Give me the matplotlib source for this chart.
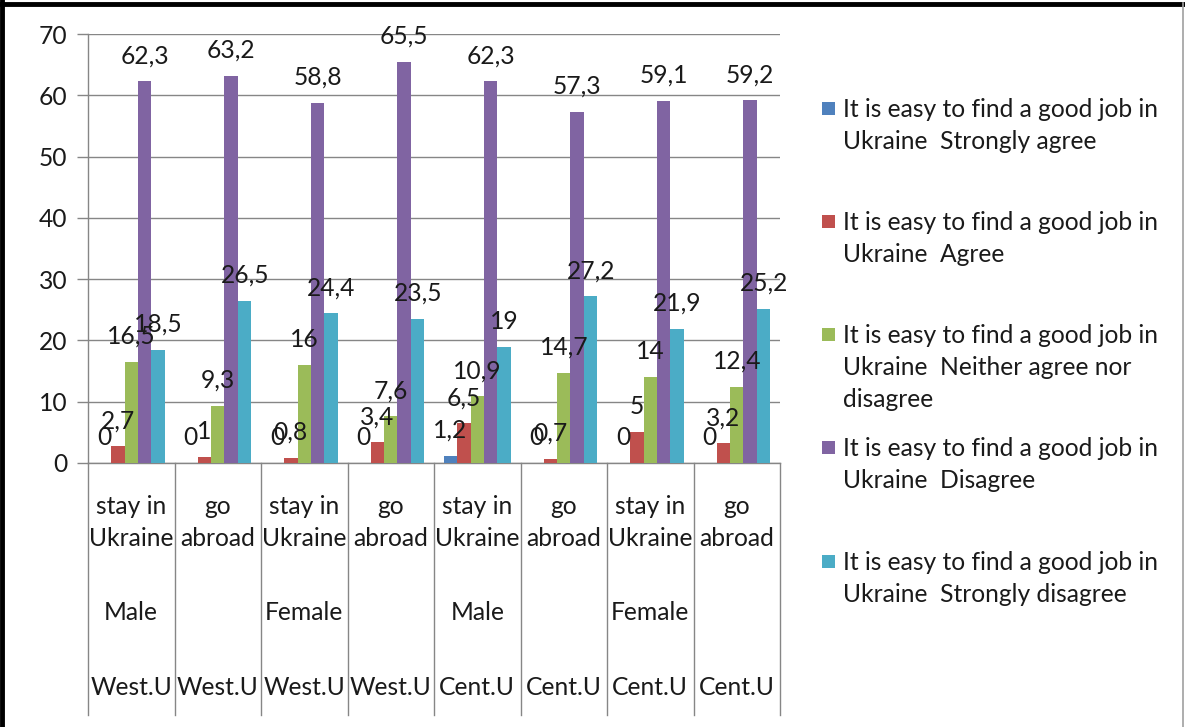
import matplotlib
matplotlib.use("Agg")
import matplotlib.pyplot as plt
from matplotlib.lines import Line2D
from matplotlib.patches import Rectangle
import numpy as np

plt.rcParams['font.family'] = ['Lato', 'DejaVu Sans']

# ---- data ----
row_action = ["stay in\nUkraine", "go\nabroad", "stay in\nUkraine", "go\nabroad",
              "stay in\nUkraine", "go\nabroad", "stay in\nUkraine", "go\nabroad"]
row_gender = ["Male", "", "Female", "", "Male", "", "Female", ""]
row_region = ["West.U", "West.U", "West.U", "West.U", "Cent.U", "Cent.U", "Cent.U", "Cent.U"]

series_names = [
    "It is easy to find a good job in\nUkraine  Strongly agree",
    "It is easy to find a good job in\nUkraine  Agree",
    "It is easy to find a good job in\nUkraine  Neither agree nor\ndisagree",
    "It is easy to find a good job in\nUkraine  Disagree",
    "It is easy to find a good job in\nUkraine  Strongly disagree",
]
strongly_agree = [0, 0, 0, 0, 1.2, 0, 0, 0]
agree = [2.7, 1, 0.8, 3.4, 6.5, 0.7, 5, 3.2]
neither = [16.5, 9.3, 16, 7.6, 10.9, 14.7, 14, 12.4]
disagree = [62.3, 63.2, 58.8, 65.5, 62.3, 57.3, 59.1, 59.2]
strongly_disagree = [18.5, 26.5, 24.4, 23.5, 19, 27.2, 21.9, 25.2]
series_values = [strongly_agree, agree, neither, disagree, strongly_disagree]
colors = ["#4F81BD", "#C0504D", "#9BBB59", "#8064A2", "#4BACC6"]
yticks = [0, 10, 20, 30, 40, 50, 60, 70]

FS = 17.7
GRAY = "#868686"
W, H = 1185, 727

fig = plt.figure(figsize=(W / 100, H / 100), dpi=100)
fig.patch.set_facecolor("white")

def fx(px):
    return px / W

def fy(py):
    return 1 - py / H

ax_left, ax_right, ax_top, ax_bot = 88, 780, 34, 463
ax = fig.add_axes([fx(ax_left), fy(ax_bot), fx(ax_right - ax_left), (ax_bot - ax_top) / H])

n = len(row_region)
x = np.arange(n)
bw = 0.156
for i, (vals, c) in enumerate(zip(series_values, colors)):
    xs = x + (i - 2) * bw
    ax.bar(xs, vals, width=bw, color=c, zorder=3)
    for xi, v in zip(xs, vals):
        lab = (str(int(v)) if float(v).is_integer() else str(v)).replace(".", ",")
        ax.annotate(lab, xy=(xi, v), xytext=(0, 13), textcoords="offset points",
                    ha="center", va="baseline", fontsize=FS, color="#1a1a1a",
                    zorder=5, annotation_clip=False)

ax.set_xlim(-0.5, n - 0.5)
ax.set_ylim(0, 70)
ax.set_yticks(yticks)
ax.set_yticklabels([str(t) for t in yticks], fontsize=FS)
ax.yaxis.grid(True, color=GRAY, linewidth=1, zorder=0)
ax.set_axisbelow(True)
ax.tick_params(axis="y", length=8, width=1, color=GRAY, pad=7, labelcolor="#1a1a1a")
ax.set_xticks([])
for s in ["top", "right"]:
    ax.spines[s].set_visible(False)
for s in ["left", "bottom"]:
    ax.spines[s].set_color(GRAY)
    ax.spines[s].set_linewidth(1)

# category area
trans = ax.get_xaxis_transform()
h = ax_bot - ax_top
def af(py):
    return (ax_bot - py) / h

for b in np.arange(-0.5, n, 1.0):
    ax.plot([b, b], [0, af(715)], transform=trans, color=GRAY, lw=1, clip_on=False)

for i in range(n):
    l1, l2 = row_action[i].split("\n")
    ax.text(i, af(514), l1, transform=trans, ha="center", va="baseline", fontsize=FS, color="#1a1a1a")
    ax.text(i, af(546), l2, transform=trans, ha="center", va="baseline", fontsize=FS, color="#1a1a1a")
    if row_gender[i]:
        ax.text(i, af(620), row_gender[i], transform=trans, ha="center", va="baseline", fontsize=FS, color="#1a1a1a")
    ax.text(i, af(695), row_region[i], transform=trans, ha="center", va="baseline", fontsize=FS, color="#1a1a1a")

# legend
entry_base = [117, 230, 343, 456, 570]
pitch = 32
for name, c, yb in zip(series_names, colors, entry_base):
    fig.patches.append(Rectangle((fx(822), fy(yb - 2)), fx(13), 13 / H, transform=fig.transFigure,
                                 facecolor=c, edgecolor="none"))
    for k, line in enumerate(name.split("\n")):
        fig.text(fx(843), fy(yb + k * pitch), line, ha="left", va="baseline", fontsize=FS, color="#1a1a1a")

# outer frame
fig.add_artist(Line2D([0, 1], [fy(3.5), fy(3.5)], transform=fig.transFigure, color="black", lw=3.5))
fig.add_artist(Line2D([fx(2), fx(2)], [0, 1], transform=fig.transFigure, color="black", lw=3.5))
fig.add_artist(Line2D([fx(1182.5), fx(1182.5)], [0, fy(3)], transform=fig.transFigure, color="#a0a0a0", lw=1.2))

fig.savefig("out.png", dpi=100)
